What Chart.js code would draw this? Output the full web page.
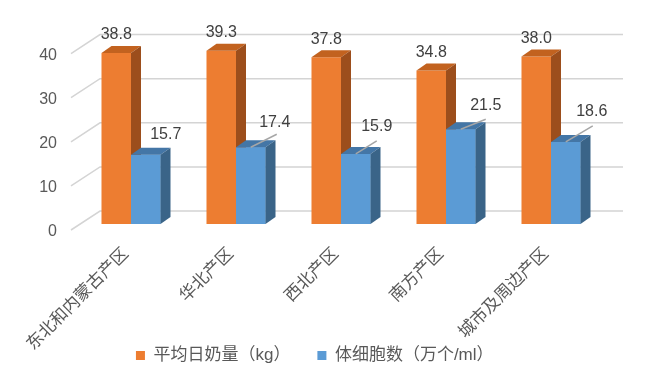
<!DOCTYPE html>
<html lang="zh-CN">
<head>
    <meta charset="UTF-8">
    <title>各产区奶量与体细胞数</title>
    <script src="https://cdn.jsdelivr.net/npm/chart.js"></script>
    <style>
        html, body { margin: 0; padding: 0; background: #fff; }
        #wrap { width: 648px; height: 374px; }
    </style>
</head>
<body>
    <div id="wrap"><canvas id="grafico"></canvas></div>
<script>
    var categories = ['东北和内蒙古产区', '华北产区', '西北产区', '南方产区', '城市及周边产区'];
    var milkYield = [38.8, 39.3, 37.8, 34.8, 38.0];
    var cellCount = [15.7, 17.4, 15.9, 21.5, 18.6];
    var seriesNames = ['平均日奶量（kg）', '体细胞数（万个/ml）'];
    var yTicks = [0, 10, 20, 30, 40];

    var FONT = "'Liberation Sans', 'Noto Sans CJK SC', sans-serif";
    // depth of the 3d bars
    var DX = 10, DY = -7;
    var faceColors = [
        { front: '#ED7D31', top: '#C2621F', side: '#9C4E1C' },
        { front: '#5B9BD5', top: '#4476A6', side: '#3A6488' }
    ];
    // where the blue labels sit relative to the bar top, and leader line ends
    var blueLabelOffset = [[20, -20], [24, -25], [21, -27], [25, -24], [26, -30]];
    var blueLeader = [null, [26, -13], [21, -13], [25, -10], [27, -16]];

    var LEGEND_PAD = 27;

    function drawFaces(ctx, el, c) {
        var p = el.getProps(['x', 'y', 'base', 'width'], true);
        var x1 = p.x - p.width / 2, x2 = p.x + p.width / 2;
        ctx.fillStyle = c.top;
        ctx.beginPath();
        ctx.moveTo(x1, p.y);
        ctx.lineTo(x1 + DX, p.y + DY);
        ctx.lineTo(x2 + DX, p.y + DY);
        ctx.lineTo(x2, p.y);
        ctx.closePath();
        ctx.fill();
        ctx.fillStyle = c.side;
        ctx.beginPath();
        ctx.moveTo(x2, p.y);
        ctx.lineTo(x2 + DX, p.y + DY);
        ctx.lineTo(x2 + DX, p.base + DY);
        ctx.lineTo(x2, p.base);
        ctx.closePath();
        ctx.fill();
    }

    var bars3d = {
        id: 'bars3d',
        beforeDatasetsDraw: function (chart) {
            var ctx = chart.ctx, area = chart.chartArea, y = chart.scales.y;
            ctx.save();
            ctx.strokeStyle = '#D4D4D4';
            ctx.lineWidth = 1.5;
            y.ticks.forEach(function (t) {
                var py = y.getPixelForValue(t.value);
                ctx.beginPath();
                ctx.moveTo(area.left - 7.5, py + 6);
                ctx.lineTo(area.left + 21.5, py - 13);
                ctx.lineTo(area.right + 19.5, py - 13);
                ctx.stroke();
            });
            ctx.restore();
        },
        afterDatasetsDraw: function (chart) {
            var ctx = chart.ctx;
            var orange = chart.getDatasetMeta(0).data;
            var blue = chart.getDatasetMeta(1).data;
            ctx.save();
            orange.forEach(function (el) { drawFaces(ctx, el, faceColors[0]); });
            blue.forEach(function (el) {
                el.draw(ctx);
                drawFaces(ctx, el, faceColors[1]);
            });

            ctx.font = '16px ' + FONT;
            ctx.fillStyle = '#404040';
            ctx.textAlign = 'center';
            ctx.textBaseline = 'middle';
            orange.forEach(function (el, i) {
                ctx.fillText(milkYield[i].toFixed(1), el.x, el.y - 18);
            });
            ctx.strokeStyle = '#A6A6A6';
            ctx.lineWidth = 1.5;
            blue.forEach(function (el, i) {
                var l = blueLeader[i];
                if (l) {
                    ctx.beginPath();
                    ctx.moveTo(el.x, el.y);
                    ctx.lineTo(el.x + l[0], el.y + l[1]);
                    ctx.stroke();
                }
                var o = blueLabelOffset[i];
                ctx.fillText(cellCount[i].toFixed(1), el.x + o[0], el.y + o[1]);
            });
            ctx.restore();
        }
    };

    new Chart(document.getElementById('grafico'), {
        type: 'bar',
        data: {
            labels: categories,
            datasets: [{
                label: seriesNames[0],
                data: milkYield,
                backgroundColor: faceColors[0].front,
                borderWidth: 0
            }, {
                label: seriesNames[1],
                data: cellCount,
                backgroundColor: faceColors[1].front,
                borderWidth: 0
            }]
        },
        options: {
            responsive: true,
            maintainAspectRatio: false,
            animation: false,
            categoryPercentage: 0.562,
            barPercentage: 1,
            layout: { padding: { top: 47.6, left: 26, right: 44.5, bottom: 0 } },
            scales: {
                x: {
                    grid: { display: false, drawTicks: false },
                    border: { display: false },
                    ticks: {
                        color: '#595959',
                        font: { family: FONT, size: 17 },
                        minRotation: 45,
                        maxRotation: 45,
                        padding: 20,
                        labelOffset: -5,
                        autoSkip: false
                    },
                    afterFit: function (s) {
                        // 374 - legend (17 + pad + 10) - plot bottom at 224
                        s.height = 374 - (27 + LEGEND_PAD) - 224;
                        // labels run into the legend band, don't clip them
                        s._computeLabelArea = function () { return null; };
                    }
                },
                y: {
                    min: 0,
                    max: 40,
                    afterBuildTicks: function (s) {
                        s.ticks = yTicks.map(function (v) { return { value: v }; });
                    },
                    grid: { display: false, drawTicks: false },
                    border: { display: false },
                    ticks: {
                        color: '#595959',
                        font: { family: FONT, size: 16 },
                        padding: 21.5,
                        labelOffset: 8
                    },
                    afterFit: function (s) { s.width = 52.5; }
                }
            },
            plugins: {
                legend: {
                    position: 'bottom',
                    labels: {
                        boxWidth: 9,
                        boxHeight: 9,
                        padding: LEGEND_PAD,
                        color: '#595959',
                        font: { family: FONT, size: 17 }
                    }
                },
                tooltip: { enabled: false }
            }
        },
        plugins: [bars3d]
    });
</script>
</body>
</html>
